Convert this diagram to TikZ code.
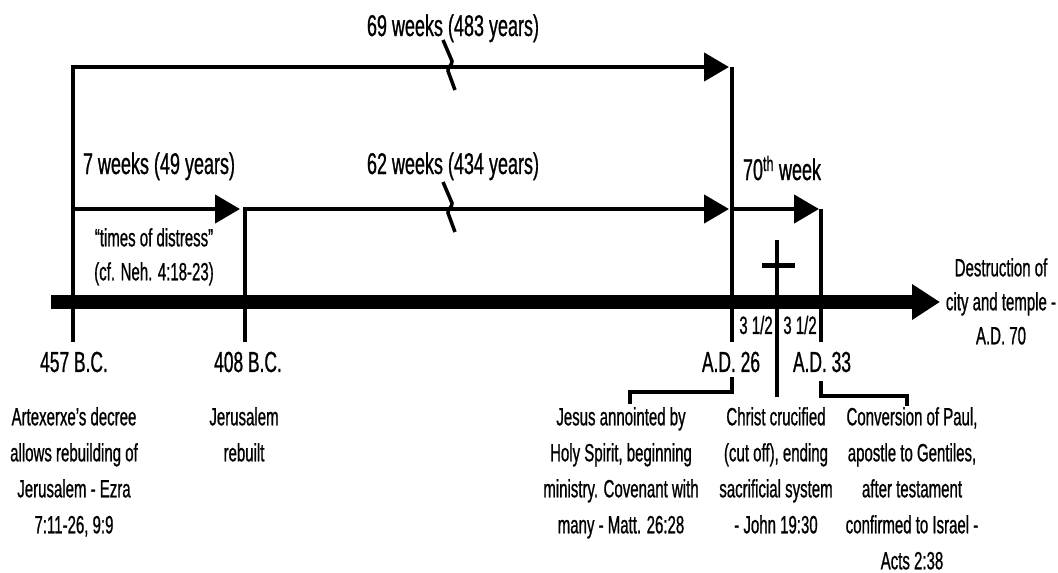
\documentclass[tikz,border=0pt]{standalone}
\usepackage{fontspec}
\setmainfont{Liberation Sans}[FakeStretch=0.6, FakeBold=0.8]
\usetikzlibrary{arrows.meta,positioning,calc}

\begin{document}
\begin{tikzpicture}[x=1pt,y=-1pt,
  caption/.style={align=center, font=\fontsize{25}{36}\selectfont, inner sep=0pt},
  datelbl/.style={font=\fontsize{29}{30}\selectfont, inner sep=0pt},
  spanlbl/.style={font=\fontsize{30}{30}\selectfont, inner sep=0pt, anchor=base},
  tick/.style={line width=4pt},
  period/.style={line width=4.5pt, line join=miter, -{Triangle[length=25pt,width=28pt]}},
  ]
  \useasboundingbox (0,0) rectangle (1058,573);

  % key points on the time line
  \coordinate (d457) at (73,342);
  \coordinate (d408) at (245,342);
  \coordinate (d26) at (732,342);
  \coordinate (d33) at (821,342);
  \coordinate (rowA) at (0,67);
  \coordinate (rowB) at (0,209);
  \coordinate (start) at (51,302);
  \coordinate (end) at (940,302);

  % main time line
  \draw[line width=14pt, -{Triangle[length=28pt,width=34pt]}] (start) -- (end);

  % periods
  \draw[period] (d457) -- (d457 |- rowA) -- ($(d26 |- rowA)+(-3,0)$);
  \draw[period] (d457 |- rowB) -- ($(d408 |- rowB)+(-5,0)$);
  \draw[period] (d408) -- (d408 |- rowB) -- ($(d26 |- rowB)+(-3,0)$);
  \draw[period] (d26 |- rowB) -- ($(d33 |- rowB)+(-2,0)$);
  \draw[tick] (d26 |- rowA) -- (d26);
  \draw[tick] (d33 |- rowB) -- (d33);

  % breaks in the long periods
  \foreach \yy in {67,209}
    \draw[line width=3.5pt] (443,\yy-27) -- (452,\yy-6)
      .. controls (453,\yy-3) and (447,\yy+1) .. (448,\yy+4) -- (455,\yy+23);

  % cross
  \coordinate (crosstop) at (777,240);
  \coordinate (crossfoot) at (777,397);
  \draw[tick] (crosstop) -- (crossfoot);
  \draw[line width=5pt] (762,265) -- (795,265);

  % labels of the periods
  \node[spanlbl] (wk69) at (453,36) {69 weeks (483 years)};
  \node[spanlbl] (wk62) at (453,174) {62 weeks (434 years)};
  \node[spanlbl] (wk7) at (159,174) {7 weeks (49 years)};
  \node[spanlbl] (wk70) at (782,180) {70\textsuperscript{th} week};
  \node[caption, anchor=north, font=\fontsize{25}{34}\selectfont] (distress) at (154,228)
    {“times of distress”\\(cf. Neh. 4:18-23)};
  \node[caption] (half1) at (756,325) {3 1/2};
  \node[caption] (half2) at (800,325) {3 1/2};

  % dates
  \node[datelbl] (bc457) at (74,362) {457 B.C.};
  \node[datelbl] (bc408) at (248,362) {408 B.C.};
  \node[datelbl] (ad26) at (731,362) {A.D. 26};
  \node[datelbl] (ad33) at (822,362) {A.D. 33};

  % brackets to the events
  \coordinate (br26) at (630,404);
  \coordinate (br33) at (907,406);
  \draw[tick] (ad26.south -| d26) ++(0,5) -- ++(0,15) -| (br26);
  \draw[tick] (ad33.south -| d33) ++(0,9) -- ++(0,15) -| (br33);

  % events
  \node[caption, anchor=north] (decree) at (74,407)
    {Artexerxe's decree\\allows rebuilding of\\Jerusalem - Ezra\\7:11-26, 9:9};
  \node[caption, anchor=north] (rebuilt) at (244,407) {Jerusalem\\rebuilt};
  \node[caption, anchor=north] (jesus) at (621,407)
    {Jesus annointed by\\Holy Spirit, beginning\\ministry. Covenant with\\many - Matt. 26:28};
  \node[caption, anchor=north] (christ) at (776,407)
    {Christ crucified\\(cut off), ending\\sacrificial system\\- John 19:30};
  \node[caption, anchor=north] (paul) at (912,407)
    {Conversion of Paul,\\apostle to Gentiles,\\after testament\\confirmed to Israel -\\Acts 2:38};
  \node[caption, anchor=north, font=\fontsize{25}{34}\selectfont] (destr) at (1001,258)
    {Destruction of\\city and temple -\\A.D. 70};
\end{tikzpicture}
\end{document}
